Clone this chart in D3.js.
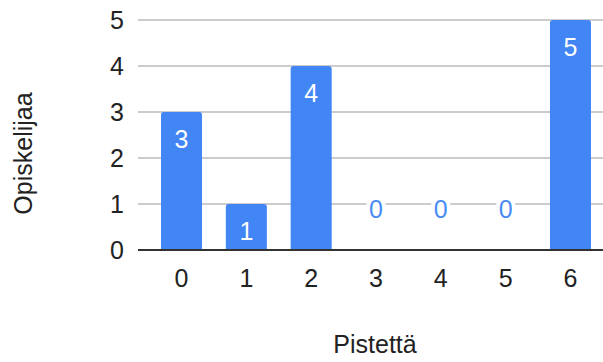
<!DOCTYPE html>
<html>
<head>
<meta charset="utf-8">
<script src="https://cdn.jsdelivr.net/npm/d3@7"></script>
<style>
  body { margin: 0; background: #fff; }
  text { font-family: "Liberation Sans", Arial, sans-serif; }
</style>
</head>
<body>
<script>
// data
var categories = ['0', '1', '2', '3', '4', '5', '6'];
var students = [3, 1, 4, 0, 0, 0, 5];
var yTicks = [0, 1, 2, 3, 4, 5];
var xTitle = 'Pistettä';
var yTitle = 'Opiskelijaa';

var W = 603, H = 362;
var plotLeft = 138, plotRight = 614, plotTop = 20, plotBottom = 250;

var svg = d3.select('body').append('svg')
    .attr('width', W)
    .attr('height', H);

var x = d3.scaleBand()
    .domain(categories)
    .range([plotLeft, plotRight])
    .paddingInner(0.367)
    .paddingOuter(0.355);

var y = d3.scaleLinear()
    .domain([0, 5])
    .range([plotBottom, plotTop]);

//gridlines
svg.append('g').selectAll('line')
    .data(yTicks.filter(function(d) { return d > 0; }))
    .enter().append('line')
    .attr('x1', plotLeft).attr('x2', plotRight)
    .attr('y1', function(d) { return y(d); })
    .attr('y2', function(d) { return y(d); })
    .attr('stroke', '#cccccc')
    .attr('stroke-width', 2);

//y tick labels
svg.append('g').selectAll('text')
    .data(yTicks)
    .enter().append('text')
    .attr('x', 124)
    .attr('y', function(d) { return y(d) + 9; })
    .attr('text-anchor', 'end')
    .attr('font-size', 25)
    .attr('fill', '#222')
    .text(function(d) { return d; });

//bars with rounded tops
var r = 3;
svg.append('g').selectAll('path')
    .data(students.map(function(v, i) { return {c: categories[i], v: v}; }).filter(function(d) { return d.v > 0; }))
    .enter().append('path')
    .attr('fill', '#4285f4')
    .attr('d', function(d) {
        var x0 = x(d.c), x1 = x0 + x.bandwidth(), y0 = y(0), y1 = y(d.v);
        return 'M' + x0 + ',' + y0 + 'V' + (y1 + r) + 'Q' + x0 + ',' + y1 + ' ' + (x0 + r) + ',' + y1 +
            'H' + (x1 - r) + 'Q' + x1 + ',' + y1 + ' ' + x1 + ',' + (y1 + r) + 'V' + y0 + 'Z';
    });

//baseline
svg.append('line')
    .attr('x1', plotLeft).attr('x2', plotRight)
    .attr('y1', y(0)).attr('y2', y(0))
    .attr('stroke', '#333333')
    .attr('stroke-width', 2);

//value labels
svg.append('g').selectAll('text')
    .data(students.map(function(v, i) { return {c: categories[i], v: v}; }))
    .enter().append('text')
    .attr('x', function(d) { return x(d.c) + x.bandwidth() / 2; })
    .attr('y', function(d) { return d.v > 0 ? y(d.v) + 36 : y(0) - 32; })
    .attr('text-anchor', 'middle')
    .attr('font-size', 25)
    .attr('fill', function(d) { return d.v > 0 ? '#ffffff' : '#4a8cf5'; })
    .attr('stroke', function(d) { return d.v > 0 ? 'none' : '#ffffff'; })
    .attr('stroke-width', 8)
    .attr('paint-order', 'stroke')
    .text(function(d) { return d.v; });

//x tick labels
svg.append('g').selectAll('text')
    .data(categories)
    .enter().append('text')
    .attr('x', function(d) { return x(d) + x.bandwidth() / 2; })
    .attr('y', 287)
    .attr('text-anchor', 'middle')
    .attr('font-size', 25)
    .attr('fill', '#222')
    .text(function(d) { return d; });

//axis titles
svg.append('text')
    .attr('x', 375)
    .attr('y', 353)
    .attr('text-anchor', 'middle')
    .attr('font-size', 25)
    .attr('fill', '#222')
    .text(xTitle);

svg.append('text')
    .attr('transform', 'translate(32,153.5) rotate(-90)')
    .attr('text-anchor', 'middle')
    .attr('font-size', 25)
    .attr('fill', '#222')
    .text(yTitle);
</script>
</body>
</html>
